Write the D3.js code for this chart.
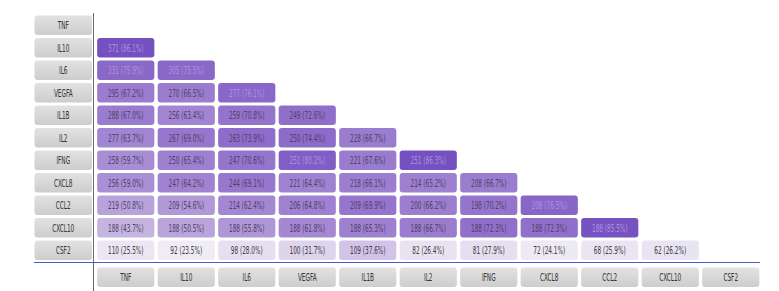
<!DOCTYPE html>
<html>
<head>
<meta charset="utf-8">
<script src="https://cdn.jsdelivr.net/npm/d3@7"></script>
<style>
    body { margin: 0; background: white; }
</style>
</head>
<body>
<script>
// genes, same order on both axes
let genes = ["TNF", "IL10", "IL6", "VEGFA", "IL1B", "IL2", "IFNG", "CXCL8", "CCL2", "CXCL10", "CSF2"]

// lower triangle, row i has i entries (columns 0..i-1)
let counts = [
    [],
    [371],
    [331, 305],
    [295, 270, 277],
    [288, 256, 259, 249],
    [277, 267, 263, 250, 228],
    [258, 250, 247, 251, 221, 251],
    [256, 247, 244, 221, 218, 214, 208],
    [219, 209, 214, 206, 209, 200, 198, 208],
    [188, 188, 188, 188, 188, 188, 188, 188, 188],
    [110, 92, 98, 100, 109, 82, 81, 72, 68, 62],
]

let pcts = [
    [],
    [86.1],
    [75.9, 75.5],
    [67.2, 66.5, 76.1],
    [67.0, 63.4, 70.8, 72.6],
    [63.7, 69.0, 73.9, 74.4, 66.7],
    [59.7, 65.4, 70.6, 80.2, 67.6, 86.3],
    [59.0, 64.2, 69.1, 64.4, 66.1, 65.2, 66.7],
    [50.8, 54.6, 62.4, 64.8, 69.9, 66.2, 70.2, 76.5],
    [43.7, 50.5, 55.8, 61.8, 65.3, 66.7, 72.3, 72.3, 85.5],
    [25.5, 23.5, 28.0, 31.7, 37.6, 26.4, 27.9, 24.1, 25.9, 26.2],
]

const W = 779, H = 291

const svg = d3.select("body").append("svg")
    .attr("width", W)
    .attr("height", H)

const defs = svg.append("defs")
const grad = defs.append("linearGradient")
    .attr("id", "lab")
    .attr("x1", 0).attr("y1", 0).attr("x2", 0).attr("y2", 1)
grad.append("stop").attr("offset", "0%").attr("stop-color", "#e2e2e2")
grad.append("stop").attr("offset", "100%").attr("stop-color", "#cdcdcd")

const x = d3.scaleBand()
    .domain(genes)
    .range([95.5, 95.5 + 11 * 60.5])
    .paddingInner(0.055)
    .paddingOuter(0.0275)

const y = d3.scaleBand()
    .domain(genes)
    .range([14, 14 + 11 * 22.5])
    .paddingInner(0.13)
    .paddingOuter(0.065)

const color = d3.scaleLinear()
    .domain([23, 44, 86.3])
    .range(["#f0edf4", "#c4b2e0", "#7550c0"])
    .interpolate(d3.interpolateLab)
    .clamp(true)

const font = "'DejaVu Sans Condensed', 'Liberation Sans Narrow', sans-serif"

function label(g, cx, cy, t, fill) {
    g.append("text")
        .attr("transform", `translate(${cx},${cy}) scale(0.64,1)`)
        .attr("text-anchor", "middle")
        .attr("dominant-baseline", "central")
        .attr("font-family", font)
        .attr("font-size", 10)
        .attr("fill", fill)
        .text(t)
}

// cells
const cells = []
counts.forEach((row, i) => row.forEach((v, j) => {
    cells.push({r: genes[i], c: genes[j], n: v, p: pcts[i][j]})
}))

const cg = svg.append("g")
cg.selectAll("rect")
    .data(cells)
    .join("rect")
        .attr("x", d => x(d.c))
        .attr("y", d => y(d.r))
        .attr("width", x.bandwidth())
        .attr("height", y.bandwidth())
        .attr("rx", 3)
        .attr("fill", d => color(d.p))

cells.forEach(d => {
    label(cg, x(d.c) + x.bandwidth() / 2, y(d.r) + y.bandwidth() / 2 + 0.5,
        `${d.n} (${d.p.toFixed(1)}%)`,
        d.p >= 75 ? "#aa93de" : (d.p < 40 ? "#3c3848" : "#4d4266"))
})

// row labels
const rg = svg.append("g")
genes.forEach(gn => {
    rg.append("rect")
        .attr("x", 34.5)
        .attr("y", y(gn))
        .attr("width", 57.5)
        .attr("height", y.bandwidth())
        .attr("rx", 3)
        .attr("fill", "url(#lab)")
    label(rg, 34.5 + 57.5 / 2, y(gn) + y.bandwidth() / 2 + 0.5, gn, "#333")
})

// column labels
const by = 267.5
genes.forEach(gn => {
    rg.append("rect")
        .attr("x", x(gn))
        .attr("y", by)
        .attr("width", x.bandwidth())
        .attr("height", y.bandwidth())
        .attr("rx", 3)
        .attr("fill", "url(#lab)")
    label(rg, x(gn) + x.bandwidth() / 2, by + y.bandwidth() / 2 + 0.5, gn, "#333")
})

// axis lines
svg.append("line")
    .attr("x1", 93.5).attr("x2", 93.5)
    .attr("y1", 13).attr("y2", H)
    .attr("stroke", "#6b6880")
    .attr("stroke-width", 1)

svg.append("line")
    .attr("x1", 34).attr("x2", 760)
    .attr("y1", 262.5).attr("y2", 262.5)
    .attr("stroke", "#4a5cc4")
    .attr("stroke-width", 1.2)
</script>
</body>
</html>
